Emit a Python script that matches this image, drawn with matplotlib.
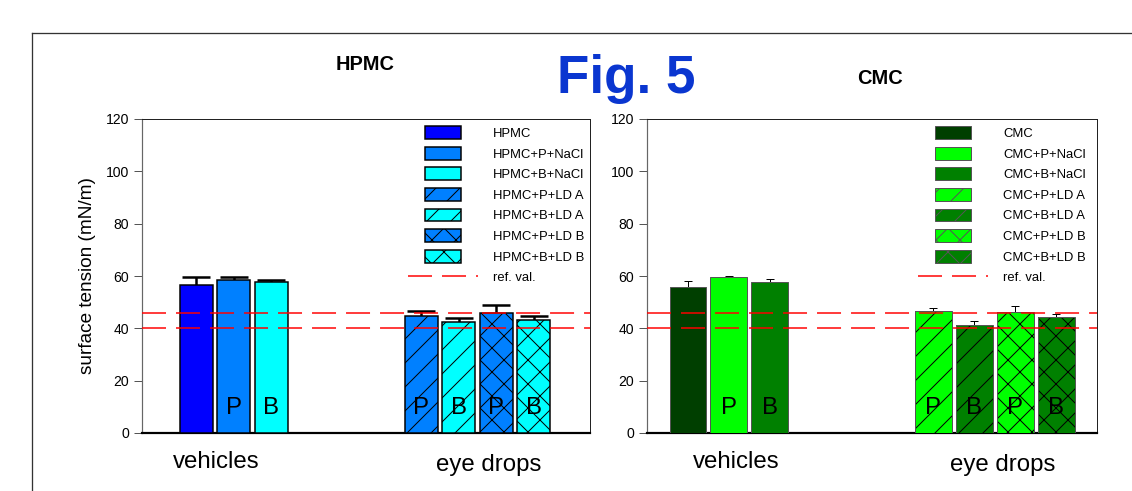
import matplotlib
matplotlib.use("Agg")
import matplotlib.pyplot as plt
from matplotlib.patches import Patch, Rectangle
from matplotlib.lines import Line2D
from matplotlib.legend_handler import HandlerPatch
import numpy as np

plt.rcParams['font.family'] = ['Liberation Sans', 'DejaVu Sans']
plt.rcParams['hatch.linewidth'] = 1.0

# ---- data (surface tension, mN/m) ----
groups = ["vehicles", "eye drops"]
ref_values = [40, 46]

hpmc_labels = ["HPMC", "HPMC+P+NaCl", "HPMC+B+NaCl", "HPMC+P+LD A",
               "HPMC+B+LD A", "HPMC+P+LD B", "HPMC+B+LD B"]
hpmc_mean = [56.6, 58.5, 57.8, 44.8, 42.3, 46.0, 43.2]
hpmc_err = [3.0, 1.2, 0.7, 1.8, 1.6, 2.9, 1.6]

cmc_labels = ["CMC", "CMC+P+NaCl", "CMC+B+NaCl", "CMC+P+LD A",
              "CMC+B+LD A", "CMC+P+LD B", "CMC+B+LD B"]
cmc_mean = [55.9, 59.7, 57.6, 46.7, 41.4, 46.4, 44.5]
cmc_err = [2.3, 0.4, 1.2, 1.2, 1.3, 2.3, 1.0]

bar_tags = ["", "P", "B", "P", "B", "P", "B"]
hatches = [None, None, None, "/", "/", "x", "x"]

hpmc_colors = ["#0000FF", "#0080FF", "#00FFFF", "#0080FF", "#00FFFF", "#0080FF", "#00FFFF"]
cmc_colors = ["#003F00", "#00FF00", "#008000", "#00FF00", "#008000", "#00FF00", "#008000"]

W, H = 1132, 491
DPI = 72


def narrow_patch(legend, orig_handle, xdescent, ydescent, width, height, fontsize):
    w = width * 36.0 / 70.0
    return Rectangle((-xdescent + (width - w) / 2, -ydescent), w, height)


def panel(ax, pos, means, errs, colors, labels, edge, edge_lw, cap, err_lw, xlim,
          leg_anchor):
    pos = np.array(pos)
    # error bars behind the bars, only upper half visible
    ax.errorbar(pos, means, yerr=errs, fmt="none", ecolor="black",
                elinewidth=err_lw, capsize=cap, capthick=err_lw, zorder=2)
    for i in range(len(means)):
        if hatches[i]:
            ax.bar(pos[i], means[i], width=bw, color=colors[i], edgecolor="black",
                   linewidth=0, hatch=hatches[i], zorder=3)
            ax.bar(pos[i], means[i], width=bw, fill=False, edgecolor=edge,
                   linewidth=edge_lw, zorder=4)
        else:
            ax.bar(pos[i], means[i], width=bw, color=colors[i], edgecolor=edge,
                   linewidth=edge_lw, zorder=3)
        if bar_tags[i]:
            ax.text(pos[i], 9.5, bar_tags[i], ha="center", va="center",
                    fontsize=24, zorder=5)
    for r in ref_values:
        ax.axhline(r, color="#FF0000", lw=1.5, dashes=(16, 6.67), zorder=6)
    ax.set_xlim(*xlim)
    ax.set_ylim(0, 120)
    ax.set_yticks(np.arange(0, 121, 20))
    ax.set_xticks([])
    ax.tick_params(axis="y", length=8, width=1, color="#555555", pad=5, labelsize=14)
    ax.spines["left"].set_color("#666666")
    ax.spines["left"].set_linewidth(1.2)
    for s in ["top", "right"]:
        ax.spines[s].set_color("#222222")
        ax.spines[s].set_linewidth(1.0)
    ax.spines["bottom"].set_color("black")
    ax.spines["bottom"].set_linewidth(2.2)

    handles = [Patch(facecolor=colors[i], edgecolor=edge, linewidth=edge_lw,
                     hatch=hatches[i]) for i in range(len(labels))]
    handles.append(Line2D([], [], color="#FF0000", lw=1.5, dashes=(16, 6.67)))
    leg = ax.legend(handles, labels + ["ref. val."], loc="upper left",
                    bbox_to_anchor=leg_anchor, bbox_transform=fig.transFigure,
                    frameon=False, borderpad=0, borderaxespad=0, fontsize=13,
                    handlelength=70 / 13, handleheight=15 / 13,
                    handletextpad=15 / 13, labelspacing=0.52,
                    handler_map={Patch: HandlerPatch(patch_func=narrow_patch)})
    return leg


fig = plt.figure(figsize=(W / DPI, H / DPI), dpi=DPI)

# outer frame of the figure page
fig.add_artist(Line2D([32 / W, 32 / W], [-0.1, 1 - 33 / H], color="#333333", lw=1.3))
fig.add_artist(Line2D([32 / W, 1.1], [1 - 33 / H, 1 - 33 / H], color="#333333", lw=1.3))

ax1 = fig.add_axes([142 / W, 1 - 433 / H, (590 - 142) / W, (433 - 119) / H])
ax2 = fig.add_axes([647 / W, 1 - 433 / H, (1097 - 647) / W, (433 - 119) / H])

bw = 0.88
panel(ax1, [1.45, 2.45, 3.45, 7.45, 8.45, 9.45, 10.45], hpmc_mean, hpmc_err,
      hpmc_colors, hpmc_labels, "black", 1.5, 14, 2.5, (0, 11.95),
      (408 / W, 1 - 126 / H))
bw = 0.9
panel(ax2, [1, 2, 3, 7, 8, 9, 10], cmc_mean, cmc_err,
      cmc_colors, cmc_labels, "#555555", 1.0, 4, 1.0, (0, 11.0),
      (918 / W, 1 - 126 / H))

# group labels under the axes
fig.text(216 / W, 1 - 462 / H, groups[0], ha="center", va="center", fontsize=24)
fig.text(489 / W, 1 - 465 / H, groups[1], ha="center", va="center", fontsize=24)
fig.text(736 / W, 1 - 462 / H, groups[0], ha="center", va="center", fontsize=24)
fig.text(1003 / W, 1 - 465 / H, groups[1], ha="center", va="center", fontsize=24)

fig.text(88 / W, 1 - 276 / H, "surface tension (mN/m)", rotation=90,
         ha="center", va="center", fontsize=19)

fig.text(365 / W, 1 - 65 / H, "HPMC", ha="center", va="center", fontsize=20,
         fontweight="bold")
fig.text(880 / W, 1 - 78 / H, "CMC", ha="center", va="center", fontsize=20,
         fontweight="bold")
fig.text(626 / W, 1 - 79 / H, "Fig. 5", ha="center", va="center", fontsize=53,
         fontweight="bold", color="#0A36D0")

fig.savefig("out.png", dpi=DPI)
